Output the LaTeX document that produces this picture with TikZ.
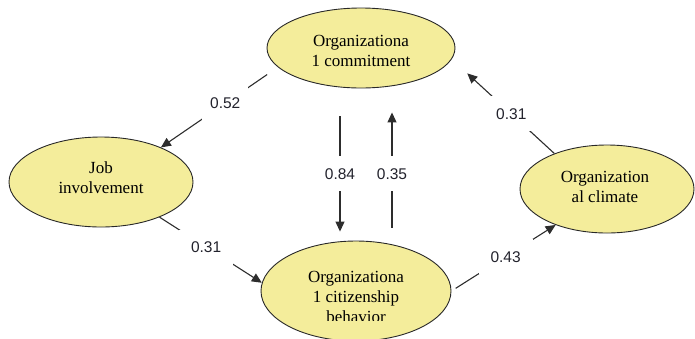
\documentclass[tikz,border=0pt]{standalone}
\usepackage{fontspec}
\setmainfont{Liberation Serif}
\newfontfamily\labfont{Liberation Sans}
\usetikzlibrary{shapes.geometric,arrows.meta}
\definecolor{ellfill}{RGB}{244,237,155}
\definecolor{ellline}{RGB}{40,40,40}
\definecolor{conncol}{RGB}{45,45,45}
\definecolor{labcol}{RGB}{35,35,45}
\begin{document}
\begin{tikzpicture}[x=1pt,y=-1pt,
  ell/.style={draw=ellline, line width=0.9pt, fill=ellfill, ellipse, inner sep=0pt},
  txt/.style={align=center, inner sep=0pt, font={\fontsize{17}{20}\selectfont}},
  arr/.style={draw=conncol, line width=1.1pt, -{Triangle[length=10pt,width=9pt]}},
  lab/.style={fill=white, text=labcol, inner xsep=12pt, inner ysep=12pt,
              font={\labfont\fontsize{15.5}{18}\selectfont}}]
\useasboundingbox (0,0) rectangle (695,338);

% ellipses
\node[ell, minimum width=188pt, minimum height=80pt] (T) at (361,48) {};
\node[ell, minimum width=184pt, minimum height=90pt] (J) at (101,182) {};
\node[ell, minimum width=190pt, minimum height=100pt] (C) at (356,291) {};
\node[ell, minimum width=174pt, minimum height=88pt] (K) at (607,189) {};

% texts
\node[txt] (Tt) at (361,51) {Organizationa\\1 commitment};
\node[txt] (Jt) at (101,178) {Job\\involvement};
\node[txt] (Kt) at (605,186.5) {Organization\\al climate};
\begin{scope}
  \clip (250,230) rectangle (460,320.5);
  \node[txt] (Ct) at (356,297) {Organizationa\\1 citizenship\\behavior};
\end{scope}

% connectors
\draw[arr, shorten <=13pt] (T.193) -- node[lab, pos=0.45, inner xsep=8pt] {0.52} (J.30);
\draw[arr] (J.329) -- node[lab, pos=0.455] {0.31} (C.175);
\coordinate (v84) at ([xshift=-21pt]T.south);
\coordinate (v35) at ([xshift=31pt]T.south);
\draw[arr, shorten <=28pt, shorten >=9pt] (v84) -- node[lab, pos=0.562] {0.84} (v84 |- C.north);
\draw[arr, shorten <=13pt, shorten >=24pt] (v35 |- C.north) -- node[lab, pos=0.438] {0.35} (v35);
\draw[arr, shorten >=21pt] (K.146) -- node[lab, pos=0.42] {0.31} (T.353);
\draw[arr, shorten <=5pt] (C.0) -- node[lab, pos=0.52] {0.43} (K.215);
\end{tikzpicture}
\end{document}
